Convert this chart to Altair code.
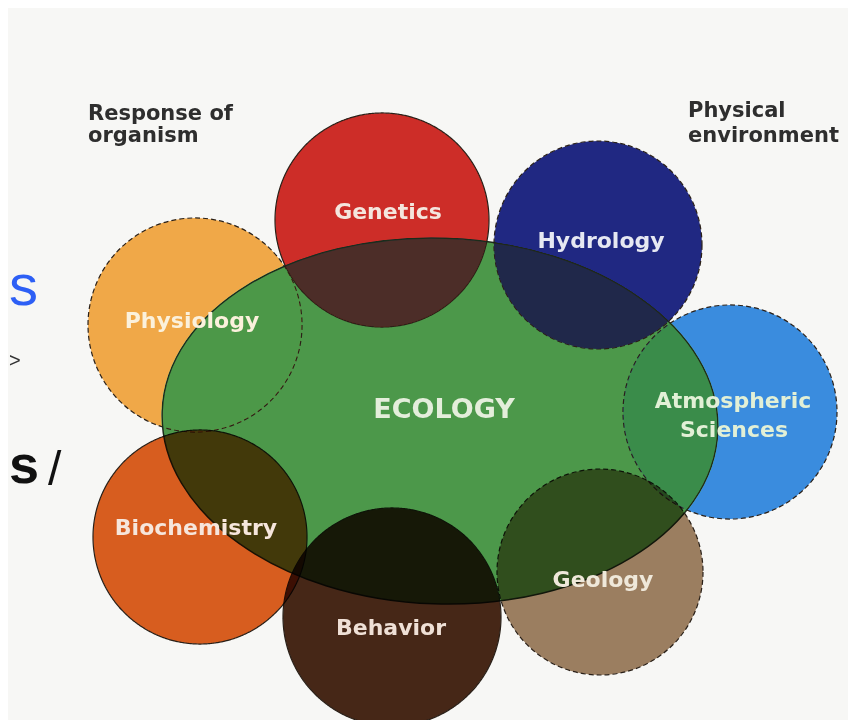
import altair as alt
import pandas as pd

# ---- data (image pixel coordinates) ----
circle_names = ["Genetics", "Hydrology", "Physiology", "Atmospheric Sciences",
                "Biochemistry", "Behavior", "Geology"]
circle_x = [382, 598, 195, 730, 200, 392, 600]
circle_y = [220, 245, 325, 412, 537, 617, 572]
circle_r = [107, 104, 107, 107, 107, 109, 103]
circle_colors = ["#cd2d28", "#202882", "#f0a848", "#3a8cde", "#de6020", "#482818", "#a08264"]
circle_outline = ["solid", "dashed", "dashed", "dashed", "solid", "solid", "dashed"]
circle_blend = ["darken", "darken", "darken", "darken", "multiply", "multiply", "multiply"]

ellipse_x = [440]
ellipse_y = [421]
ellipse_rx = [278]

label_text = ["Genetics", "Hydrology", "Physiology", "Atmospheric", "Sciences",
              "Biochemistry", "Behavior", "Geology", "ECOLOGY"]
label_x = [388, 601, 192, 733, 734, 196, 391, 603, 444]
label_y = [219, 248, 328, 408, 437, 535, 635, 587, 418]
label_size = [22, 22, 22, 22, 22, 22, 22, 22, 27]
label_color = ["#f4e6de", "#e6e8f2", "#fbf1dc", "#e2f0d6", "#e2f0d6",
               "#f6e6dc", "#efe0d6", "#efe8da", "#e4eedb"]

title_text = ["Response of", "organism", "Physical", "environment"]
title_x = [88, 88, 688, 688]
title_y = [120, 142, 117, 142]

frag_text = ["s", ">", "/"]
frag_x = [9, 9, 48]
frag_y = [305, 367, 485]
frag_size = [58, 20, 48]
frag_color = ["#2d5ff5", "#333333", "#111111"]

bold_frag_text = ["s"]
bold_frag_x = [9]
bold_frag_y = [483]
bold_frag_size = [54]

# ---- tables ----
circles = pd.DataFrame({
    "name": circle_names, "x": circle_x, "y": circle_y,
    "size": [(2 * r) ** 2 for r in circle_r],
    "color": circle_colors, "outline": circle_outline, "blend": circle_blend,
})
ellipse = pd.DataFrame({"x": ellipse_x, "y": ellipse_y,
                        "size": [(2 * r) ** 2 for r in ellipse_rx]})
labels = pd.DataFrame({"text": label_text, "x": label_x, "y": label_y,
                       "size": label_size, "color": label_color})
titles = pd.DataFrame({"text": title_text, "x": title_x, "y": title_y})
frags = pd.DataFrame({"text": frag_text, "x": frag_x, "y": frag_y,
                      "size": frag_size, "color": frag_color})
bold_frags = pd.DataFrame({"text": bold_frag_text, "x": bold_frag_x,
                           "y": bold_frag_y, "size": bold_frag_size})

X = alt.X("x:Q", scale=alt.Scale(domain=[8, 848], nice=False, zero=False), axis=None)
Y = alt.Y("y:Q", scale=alt.Scale(domain=[8, 720], nice=False, zero=False, reverse=True), axis=None)

# ellipse outline path (unit half-width 1, half-height 0.658)
k = 0.5523
ry = 0.658
ell_path = (f"M -1 0 C -1 {-k*ry:.4f} {-k:.4f} {-ry} 0 {-ry} "
            f"C {k:.4f} {-ry} 1 {-k*ry:.4f} 1 0 "
            f"C 1 {k*ry:.4f} {k:.4f} {ry} 0 {ry} "
            f"C {-k:.4f} {ry} -1 {k*ry:.4f} -1 0 Z")

ellipse_layer = alt.Chart(ellipse).mark_point(
    shape=ell_path, filled=True, fill="#4c984a", stroke="#1c2c1a",
    strokeWidth=1.5, opacity=1, fillOpacity=1, angle=2
).encode(x=X, y=Y, size=alt.Size("size:Q", scale=None))


def circle_layer(mode):
    return alt.Chart(circles).transform_filter(
        alt.datum.blend == mode
    ).mark_point(
        shape="circle", filled=True, opacity=1, fillOpacity=1,
        stroke="#2a2018", strokeWidth=1.2, blend=mode
    ).encode(
        x=X, y=Y,
        size=alt.Size("size:Q", scale=None),
        color=alt.Color("color:N", scale=None),
        strokeDash=alt.StrokeDash("outline:N", scale=alt.Scale(
            domain=["solid", "dashed"], range=[[1, 0], [5, 3]]), legend=None),
    )


label_layer = alt.Chart(labels).mark_text(
    font="DejaVu Sans", fontWeight="bold", align="center", baseline="alphabetic"
).encode(x=X, y=Y, text="text:N",
         size=alt.Size("size:Q", scale=None),
         color=alt.Color("color:N", scale=None))

title_layer = alt.Chart(titles).mark_text(
    font="DejaVu Sans", fontWeight="bold", align="left", baseline="alphabetic",
    fontSize=21, color="#2e2e2e"
).encode(x=X, y=Y, text="text:N")

frag_layer = alt.Chart(frags).mark_text(
    font="Liberation Sans", align="left", baseline="alphabetic"
).encode(x=X, y=Y, text="text:N",
         size=alt.Size("size:Q", scale=None),
         color=alt.Color("color:N", scale=None))

bold_frag_layer = alt.Chart(bold_frags).mark_text(
    font="Liberation Sans", fontWeight="bold", align="left",
    baseline="alphabetic", color="#111111"
).encode(x=X, y=Y, text="text:N", size=alt.Size("size:Q", scale=None))

chart = alt.layer(
    ellipse_layer,
    circle_layer("darken"),
    circle_layer("multiply"),
    label_layer,
    title_layer,
    frag_layer,
    bold_frag_layer,
).properties(
    width=840, height=712,
    autosize=alt.AutoSizeParams(type="none"),
    padding=0,
    background="#f7f7f5",
).configure_view(stroke=None)

chart.save("out.html", embed_options={"renderer": "svg", "actions": False})
